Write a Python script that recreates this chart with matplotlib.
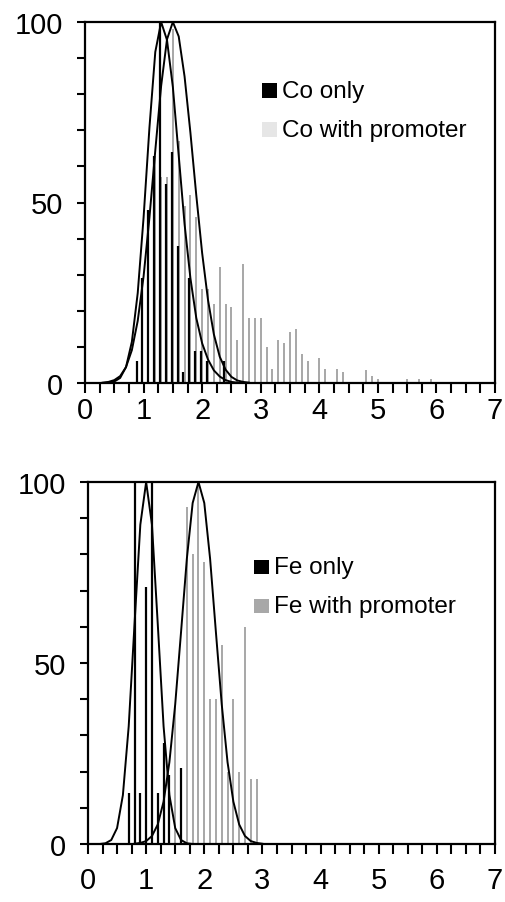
import numpy as np
import matplotlib
matplotlib.use("Agg")
import matplotlib.pyplot as plt
from matplotlib.ticker import MultipleLocator, FuncFormatter
from matplotlib.patches import Rectangle

plt.rcParams['font.family'] = ['Liberation Sans', 'DejaVu Sans']

# ---------------- data: top panel (Co) ----------------
co_only_x = [0.9, 1.0, 1.1, 1.2, 1.3, 1.4, 1.5, 1.6, 1.7, 1.8, 1.9, 2.0, 2.1, 2.4]
co_only_y = [6, 29, 48, 63, 100, 55, 64, 38, 3, 29, 9, 9, 6, 6]

co_prom_x = [1.2, 1.3, 1.4, 1.5, 1.6, 1.7, 1.8, 1.9, 2.0, 2.1, 2.2, 2.3, 2.4, 2.5,
             2.6, 2.7, 2.8, 2.9, 3.0, 3.1, 3.2, 3.3, 3.4, 3.5, 3.6, 3.7, 3.8,
             4.0, 4.1, 4.3, 4.4, 4.8, 4.9, 5.0, 5.5, 5.7, 5.9]
co_prom_y = [63, 57, 57, 98, 67, 49, 52, 46, 26, 26, 22, 32, 22, 21,
             12, 33, 18, 18, 18, 10, 4, 12, 11, 14, 15, 8, 6,
             7, 4, 4, 3, 3.5, 2, 1, 1, 1, 1]

co_only_fit_x = [0.3, 0.4, 0.5, 0.6, 0.7, 0.8, 0.9, 1.0, 1.1, 1.2, 1.3, 1.4, 1.5,
                 1.6, 1.7, 1.8, 1.9, 2.0, 2.1, 2.2, 2.3, 2.4, 2.5, 2.6]
co_only_fit_y = [0.0, 0.1, 0.4, 1.4, 4.4, 11.4, 24.9, 45.8, 70.7, 91.7, 100, 95, 82,
                 63, 44, 29, 18, 11, 6.5, 3.5, 1.8, 0.8, 0.3, 0.1]

co_prom_fit_x = [0.3, 0.4, 0.5, 0.6, 0.7, 0.8, 0.9, 1.0, 1.1, 1.2, 1.3, 1.4, 1.5,
                 1.6, 1.7, 1.8, 1.9, 2.0, 2.1, 2.2, 2.3, 2.4, 2.5, 2.6, 2.7, 2.8]
co_prom_fit_y = [0.1, 0.3, 0.8, 1.9, 4.4, 9.1, 17.2, 29.5, 45.8, 64.4, 82.3, 95.2, 100,
                 96.0, 84.9, 69.3, 52.0, 36.0, 23.0, 13.5, 7.3, 3.7, 1.7, 0.7, 0.3, 0.1]

# ---------------- data: bottom panel (Fe) ----------------
fe_only_x = [0.7, 0.8, 0.9, 1.0, 1.1, 1.2, 1.3, 1.4, 1.6]
fe_only_y = [14, 100, 14, 71, 100, 14, 28, 19, 21]

fe_prom_x = [1.5, 1.6, 1.7, 1.8, 1.9, 2.0, 2.1, 2.2, 2.3, 2.4, 2.5, 2.6, 2.7, 2.8, 2.9]
fe_prom_y = [38, 20, 93, 80, 100, 78, 40, 40, 55, 20, 40, 20, 60, 18, 18]

fe_only_fit_x = [0.2, 0.3, 0.4, 0.5, 0.6, 0.7, 0.8, 0.9, 1.0, 1.1, 1.2, 1.3, 1.4, 1.5, 1.6, 1.7, 1.8]
fe_only_fit_y = [0.0, 0.2, 1.1, 4.4, 13.5, 32.5, 60.7, 88.2, 100, 88.2, 60.7, 32.5, 13.5, 4.4, 1.1, 0.2, 0.0]

fe_prom_fit_x = [0.8, 0.9, 1.0, 1.1, 1.2, 1.3, 1.4, 1.5, 1.6, 1.7, 1.8, 1.9, 2.0, 2.1, 2.2,
                 2.3, 2.4, 2.5, 2.6, 2.7, 2.8, 2.9, 3.0]
fe_prom_fit_y = [0.07, 0.3, 0.8, 2.2, 5.4, 11.7, 22.6, 38.6, 58.5, 78.8, 94.2, 100, 94.2, 78.8, 58.5,
                 38.6, 22.6, 11.7, 5.4, 2.2, 0.8, 0.3, 0.07]

x_tick_labels = ['0', '1', '2', '3', '4', '5', '6', '7']
y_tick_labels = {0: '0', 50: '50', 100: '100'}

W, H = 505, 903
fig = plt.figure(figsize=(W / 100, H / 100), dpi=100)

GRAY = '#a0a0a0'


def style_axes(ax, xpad=3):
    ax.set_xlim(0, 7)
    ax.set_ylim(0, 100)
    ax.xaxis.set_major_locator(MultipleLocator(0.25))
    ax.yaxis.set_major_locator(MultipleLocator(10))
    ax.xaxis.set_major_formatter(FuncFormatter(
        lambda v, p: x_tick_labels[int(round(v))] if abs(v - round(v)) < 1e-6 and 0 <= round(v) < len(x_tick_labels) else ''))
    ax.yaxis.set_major_formatter(FuncFormatter(
        lambda v, p: y_tick_labels.get(int(round(v)), '') if abs(v - round(v)) < 1e-6 else ''))
    ax.tick_params(axis='x', direction='out', length=7.5, width=1.5, pad=xpad, labelsize=21)
    ax.tick_params(axis='y', direction='out', length=6, width=1.5, pad=10, labelsize=21)
    for s in ax.spines.values():
        s.set_linewidth(1.6)


def legend_entry(ax, fx, fy, label, color):
    ax.add_patch(Rectangle((fx, fy), 0.036, 0.04, transform=ax.transAxes,
                           facecolor=color, edgecolor='none', clip_on=False))
    ax.text(fx + 0.048, fy + 0.02, label, transform=ax.transAxes,
            fontsize=17.5, va='center', ha='left', color='black')


# ---- top panel ----
ax1 = fig.add_axes([85 / W, 1 - 384 / H, 410 / W, 361 / H])
ax1.vlines(co_prom_x, 0, co_prom_y, colors=GRAY, linewidth=1.3, zorder=2)
ax1.vlines([x - 0.02 for x in co_only_x], 0, co_only_y, colors='black', linewidth=1.6, zorder=3)
ax1.plot(co_only_fit_x, co_only_fit_y, color='black', lw=1.4, zorder=4)
ax1.plot(co_prom_fit_x, co_prom_fit_y, color='black', lw=1.4, zorder=4)
style_axes(ax1, xpad=2)
legend_entry(ax1, 0.432, 0.79, 'Co only', 'black')
legend_entry(ax1, 0.432, 0.682, 'Co with promoter', '#e6e6e6')

# ---- bottom panel ----
ax2 = fig.add_axes([88 / W, 1 - 845 / H, 407 / W, 362 / H])
ax2.vlines(fe_prom_x, 0, fe_prom_y, colors=GRAY, linewidth=1.3, zorder=2)
ax2.vlines(fe_only_x, 0, fe_only_y, colors='black', linewidth=1.6, zorder=3)
ax2.plot(fe_only_fit_x, fe_only_fit_y, color='black', lw=1.4, zorder=4)
ax2.plot(fe_prom_fit_x, fe_prom_fit_y, color='black', lw=1.4, zorder=4)
style_axes(ax2, xpad=8)
legend_entry(ax2, 0.408, 0.745, 'Fe only', 'black')
legend_entry(ax2, 0.408, 0.638, 'Fe with promoter', '#a8a8a8')

fig.savefig('out.png', dpi=100)
